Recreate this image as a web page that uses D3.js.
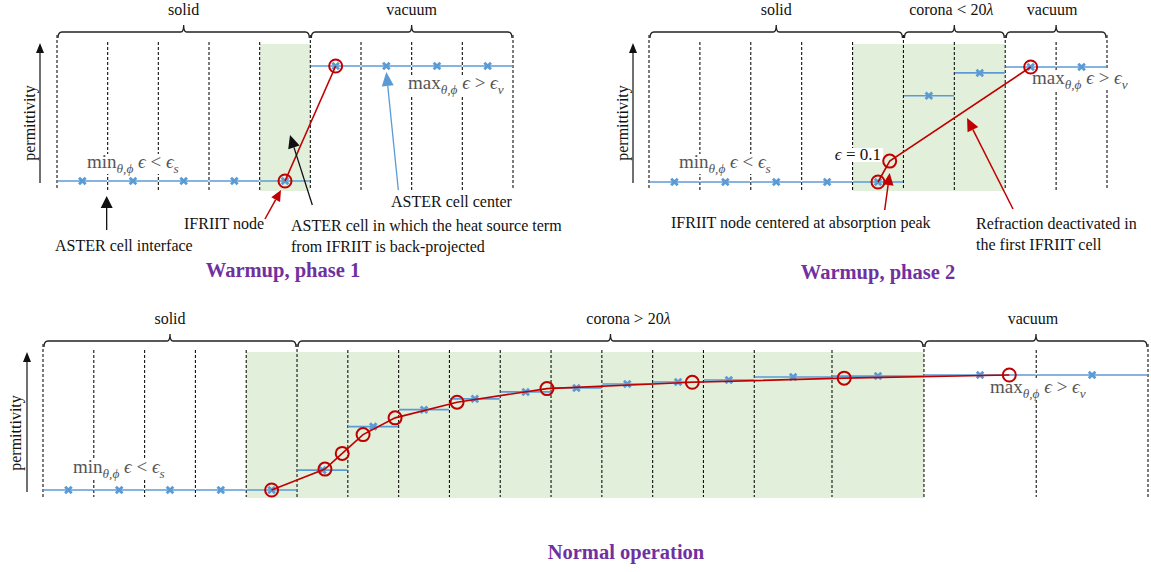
<!DOCTYPE html>
<html>
<head>
<meta charset="utf-8">
<script src="https://cdn.jsdelivr.net/npm/d3@7"></script>
<style>
  body { margin: 0; background: #fff; }
  svg { display: block; }
</style>
</head>
<body>
<svg id="chart" width="1151" height="572"></svg>
<script>
// ---- Data: cell edges (in solid-cell widths), cell permittivity, IFRIIT nodes ----
// Warmup, phase 1
const p1Edges = [0, 1, 2, 3, 4, 5, 6, 7, 8, 9];
const p1CellEps = [-0.1, -0.1, -0.1, -0.1, -0.1, 1, 1, 1, 1];
const p1NodeX = [4.5, 5.5];
const p1NodeEps = [-0.1, 1];
const p1Shade = [4, 5];
const p1RegionLabels = ["solid", "vacuum"];
const p1RegionEdges = [[0, 5], [5, 9]];

// Warmup, phase 2
const p2Edges = [0, 1, 2, 3, 4, 5, 6, 7, 8, 9];
const p2CellEps = [-0.1, -0.1, -0.1, -0.1, -0.1, 0.725, 0.943, 1, 1];
const p2NodeX = [4.5, 4.73, 7.5];
const p2NodeEps = [-0.1, 0.1, 1];
const p2Shade = [4, 7];
const p2RegionLabels = ["solid", "corona < 20λ", "vacuum"];
const p2RegionEdges = [[0, 5], [5, 7], [7, 9]];

// Normal operation
const p3Edges = [0, 1, 2, 3, 4, 5, 6, 7, 8, 9, 10, 11, 12, 13, 14, 15.53, 17.34, 19.55, 21.75];
const p3CellEps = [-0.1, -0.1, -0.1, -0.1, -0.1,
                   0.09, 0.507, 0.668, 0.772, 0.838, 0.876, 0.914, 0.933, 0.952, 0.981, 0.99,
                   1, 1];
const p3NodeX = [4.5, 5.55, 5.89, 6.3, 6.93, 8.15, 9.92, 12.78, 15.77, 19.02];
const p3NodeEps = [-0.1, 0.1, 0.25, 0.43, 0.59, 0.74, 0.87, 0.93, 0.97, 1.0];
const p3Shade = [4, 17.34];
const p3RegionLabels = ["solid", "corona > 20λ", "vacuum"];
const p3RegionEdges = [[0, 5], [5, 16], [16, 18]];

const panelTitles = ["Warmup, phase 1", "Warmup, phase 2", "Normal operation"];

// ---- Styles ----
const BLUE = "#5b9bd5", RED = "#c00000", GREEN = "#e2efda", PURPLE = "#7030a0";
const SERIF = "'Liberation Serif', 'Times New Roman', 'DejaVu Serif', serif";
const MATHGREY = "#555";

const svg = d3.select("#chart");

// ---- Panel layout ----
const panels = [
  { edges: p1Edges, eps: p1CellEps, nx: p1NodeX, ne: p1NodeEps, shade: p1Shade,
    rl: p1RegionLabels, re: p1RegionEdges, labelDx: [0, 0],
    x0: 57, x1: 513, base: 181, top: 42, bottom: 190, braceY: 32,
    axisX: 40, axisTop: 43, axisBottom: 183, permX: 29, permY: 123,
    title: panelTitles[0], titleX: 283, titleY: 277 },
  { edges: p2Edges, eps: p2CellEps, nx: p2NodeX, ne: p2NodeEps, shade: p2Shade,
    rl: p2RegionLabels, re: p2RegionEdges, labelDx: [0, -3, -4],
    x0: 649, x1: 1107, base: 182, top: 42, bottom: 190, braceY: 32,
    axisX: 633, axisTop: 43, axisBottom: 183, permX: 622, permY: 123,
    title: panelTitles[1], titleX: 878, titleY: 279 },
  { edges: p3Edges, eps: p3CellEps, nx: p3NodeX, ne: p3NodeEps, shade: p3Shade,
    rl: p3RegionLabels, re: p3RegionEdges, labelDx: [0, 18, -3],
    x0: 43, x1: 1148, base: 490, top: 350, bottom: 497, braceY: 341,
    axisX: 27, axisTop: 352, axisBottom: 492, permX: 15, permY: 433,
    title: panelTitles[2], titleX: 626, titleY: 559 }
];

function arrow(g, x1, y1, x2, y2, color, len, hw, sw) {
  const a = Math.atan2(y2 - y1, x2 - x1);
  const bx = x2 - len * Math.cos(a), by = y2 - len * Math.sin(a);
  g.append("line").attr("x1", x1).attr("y1", y1).attr("x2", bx).attr("y2", by)
    .attr("stroke", color).attr("stroke-width", sw);
  const s = Math.sin(a), c = Math.cos(a);
  g.append("polygon")
    .attr("points", [[x2, y2], [bx + hw * s, by - hw * c], [bx - hw * s, by + hw * c]].map(p => p.join(",")).join(" "))
    .attr("fill", color);
}

function brace(g, xa, xb, xm, y) {
  const d = `M${xa},${y + 6} Q${xa},${y} ${xa + 4},${y} L${xm - 3},${y} Q${xm},${y} ${xm},${y - 7}` +
            ` Q${xm},${y} ${xm + 3},${y} L${xb - 4},${y} Q${xb},${y} ${xb},${y + 6}`;
  g.append("path").attr("d", d).attr("fill", "none").attr("stroke", "#222").attr("stroke-width", 1.3);
}

// math-style label: parts are [text, italic, subscript]
function mathLabel(g, x, y, parts, opts = {}) {
  const size = opts.size || 19, color = opts.color || MATHGREY;
  const t = g.append("text").attr("x", x).attr("y", y)
    .attr("font-family", SERIF).attr("font-size", size).attr("fill", color)
    .attr("text-anchor", opts.anchor || "start");
  let prevSub = false;
  parts.forEach(([s, it, sub]) => {
    const ts = t.append("tspan").text(s)
      .attr("font-style", it ? "italic" : "normal")
      .attr("font-size", sub ? size * 0.7 : size);
    if (sub && !prevSub) ts.attr("dy", 5);
    if (!sub && prevSub) ts.attr("dy", -5);
    prevSub = sub;
  });
  // white backing so the dashed interfaces break around the label
  const bb = t.node().getBBox();
  g.insert("rect", () => t.node())
    .attr("x", bb.x - 2).attr("y", bb.y + 3).attr("width", bb.width + 4).attr("height", bb.height - 5)
    .attr("fill", "#fff");
  return t;
}

const minParts = [["min", false, false], ["θ,ϕ", true, true], [" ϵ", true, false], [" < ", false, false], ["ϵ", true, false], ["s", true, true]];
const maxParts = [["max", false, false], ["θ,ϕ", true, true], [" ϵ", true, false], [" > ", false, false], ["ϵ", true, false], ["v", true, true]];

const scales = panels.map(p => {
  const x = d3.scaleLinear().domain([0, p.edges[p.edges.length - 1]]).range([p.x0, p.x1]);
  const y = d3.scaleLinear().domain([-0.1, 1]).range([p.base, p.base - 115]);
  return { x, y };
});

const layers = panels.map(() => {
  const g = svg.append("g");
  return { back: g.append("g"), mid: g.append("g"), marks: g.append("g"), front: g.append("g") };
});

panels.forEach((p, i) => {
  const { x, y } = scales[i];
  const L = layers[i];

  // shaded IFRIIT-covered cells
  L.back.append("rect")
    .attr("x", x(p.shade[0])).attr("y", p.top + 2)
    .attr("width", x(p.shade[1]) - x(p.shade[0])).attr("height", p.bottom - p.top - 1)
    .attr("fill", GREEN);

  // ASTER cell interfaces
  const regionBounds = new Set(p.re.flat());
  L.back.selectAll("line.iface").data(p.edges.map((e, k) => ({ e, k }))).join("line")
    .attr("class", "iface")
    .attr("x1", d => x(d.e)).attr("x2", d => x(d.e))
    .attr("y1", d => regionBounds.has(d.k) ? p.braceY + 3 : p.top)
    .attr("y2", p.bottom)
    .attr("stroke", "#111").attr("stroke-width", 1.1).attr("stroke-dasharray", "3,2");

  // region braces and labels
  p.re.forEach(([a, b], k) => {
    const xa = x(p.edges[a]) + 1, xb = x(p.edges[b]) - 1, xm = (xa + xb) / 2;
    brace(L.back, xa, xb, xm, p.braceY);
    const lbl = p.rl[k];
    const t = L.back.append("text").attr("x", xm + p.labelDx[k]).attr("y", p.braceY - 17)
      .attr("text-anchor", "middle").attr("font-family", SERIF).attr("font-size", 16).attr("fill", "#111");
    const m = lbl.match(/^(.*?)([<>])\s*20λ$/);
    if (m) {
      t.append("tspan").text(m[1]);
      t.append("tspan").text(m[2] + " ").attr("font-size", 17);
      t.append("tspan").text("20");
      t.append("tspan").text("λ").attr("font-style", "italic");
    } else t.text(lbl);
  });

  // permittivity axis
  arrow(L.back, p.axisX, p.axisBottom, p.axisX, p.axisTop, "#111", 10, 4, 1.2);
  L.back.append("text").attr("transform", `translate(${p.permX},${p.permY}) rotate(-90)`)
    .attr("text-anchor", "middle").attr("dy", "0.35em")
    .attr("font-family", SERIF).attr("font-size", 16).attr("fill", "#111").text("permittivity");

  // ASTER cell permittivity (piecewise constant) and cell centres
  const cells = p.eps.map((v, k) => ({ a: p.edges[k], b: p.edges[k + 1], v }));
  L.marks.selectAll("line.cell").data(cells).join("line").attr("class", "cell")
    .attr("x1", d => x(d.a) + 0.5).attr("x2", d => x(d.b) - 0.5)
    .attr("y1", d => y(d.v)).attr("y2", d => y(d.v))
    .attr("stroke", BLUE).attr("stroke-width", 1.7);
  L.marks.selectAll("path.ctr").data(cells).join("path").attr("class", "ctr")
    .attr("transform", d => `translate(${x((d.a + d.b) / 2)},${y(d.v)})`)
    .attr("d", "M-3.3,-3.3L3.3,3.3M-3.3,3.3L3.3,-3.3")
    .attr("stroke", BLUE).attr("stroke-width", 2.8).attr("fill", "none");

  // IFRIIT nodes
  const nodes = p.nx.map((v, k) => [v, p.ne[k]]);
  L.marks.append("path").datum(nodes)
    .attr("d", d3.line().x(d => x(d[0])).y(d => y(d[1])))
    .attr("fill", "none").attr("stroke", RED).attr("stroke-width", 1.6);
  L.marks.selectAll("circle.node").data(nodes).join("circle").attr("class", "node")
    .attr("cx", d => x(d[0])).attr("cy", d => y(d[1])).attr("r", 6.5)
    .attr("fill", "none").attr("stroke", RED).attr("stroke-width", 2);

  // title
  L.front.append("text").attr("x", p.titleX).attr("y", p.titleY).attr("text-anchor", "middle")
    .attr("font-family", SERIF).attr("font-weight", "bold").attr("font-size", 20.5)
    .attr("fill", PURPLE).text(p.title);
});

function note(g, x, y, lines, anchor = "start") {
  const t = g.append("text").attr("font-family", SERIF).attr("font-size", 16).attr("fill", "#111")
    .attr("text-anchor", anchor);
  lines.forEach((s, k) => t.append("tspan").attr("x", x).attr("y", y + k * 20.5).text(s));
}

// ---- Warmup, phase 1 annotations ----
{
  const { x, y } = scales[0], p = panels[0], L = layers[0];
  mathLabel(L.mid, 87, 168, minParts);
  mathLabel(L.mid, 408, 89, maxParts);
  arrow(L.front, x(1) - 1, p.base + 49, x(1) - 1, p.base + 15, "#111", 12, 6, 1.3);
  note(L.front, 55, 251, ["ASTER cell interface"]);
  arrow(L.front, x(4.5) - 20, y(p1NodeEps[0]) + 38, x(4.5) - 4, y(p1NodeEps[0]) + 9, RED, 11, 5, 1.5);
  note(L.front, 184, 229, ["IFRIIT node"]);
  arrow(L.front, x(5) + 2, 205, x(4.5) + 5, 135, "#111", 13, 6, 1.3);
  note(L.front, 291, 231, ["ASTER cell in which the heat source term", "from IFRIIT is back-projected"]);
  arrow(L.front, x(6.5) + 12, 190, x(6.5), y(1) + 6, BLUE, 14, 6, 1.3);
  note(L.front, 391, 207, ["ASTER cell center"]);
}

// ---- Warmup, phase 2 annotations ----
{
  const { x, y } = scales[1], L = layers[1];
  mathLabel(L.mid, 679, 168, minParts);
  mathLabel(L.mid, 1032, 84, maxParts);
  mathLabel(L.mid, 881, 160, [["ϵ", true, false], [" = 0.1", false, false]], { color: "#111", size: 17, anchor: "end" });
  arrow(L.front, x(4.73) - 5, 210, x(4.73), y(p2NodeEps[1]) + 12, RED, 12, 5.5, 1.5);
  note(L.front, 671, 228, ["IFRIIT node centered at absorption peak"]);
  arrow(L.front, 1013, 209, x(6.25), 118, RED, 13, 6, 1.5);
  note(L.front, 976, 229, ["Refraction deactivated in", "the first IFRIIT cell"]);
}

// ---- Normal operation annotations ----
{
  const L = layers[2];
  mathLabel(L.mid, 73, 473, minParts);
  mathLabel(L.mid, 990, 393, maxParts);
}
</script>
</body>
</html>
